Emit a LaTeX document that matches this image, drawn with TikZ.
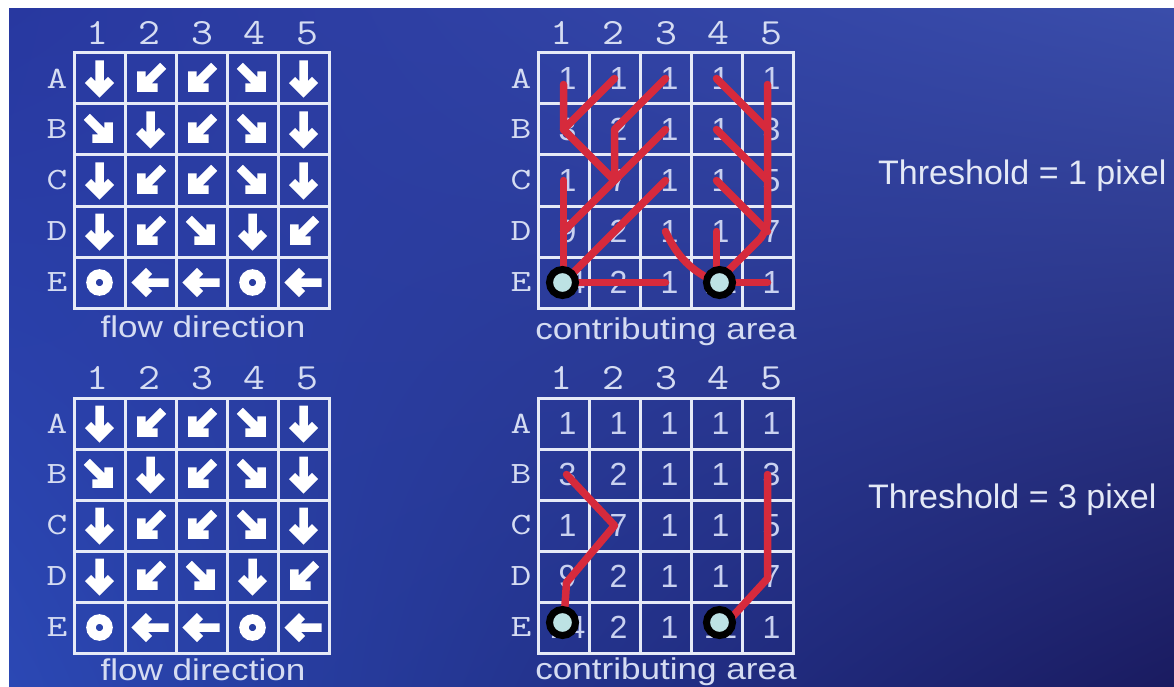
\documentclass[tikz,border=0pt]{standalone}
\usepackage{fontspec}
\usepackage{graphicx}
\usetikzlibrary{shadings}
\setmainfont{Liberation Sans}
\definecolor{bgUL}{HTML}{2838A0}
\definecolor{bgUR}{HTML}{3A4DAA}
\definecolor{bgLL}{HTML}{2B48B4}
\definecolor{bgLR}{HTML}{1A1B60}
\definecolor{labcol}{HTML}{D5DCF2}
\definecolor{numcol}{HTML}{C9D1F0}
\definecolor{gridcol}{HTML}{E6EAF7}
\definecolor{redcol}{HTML}{D62A3C}
\definecolor{pourcol}{HTML}{BDE2E4}
\definecolor{txtcol}{HTML}{E4E9F6}
\tikzset{
  gridln/.style={draw=gridcol, line width=3pt, line cap=rect},
  arrowln/.style={draw=white, line width=8.5pt, miter limit=4},
  collab/.style={text=labcol, font=\ttfamily\fontsize{37}{37}\selectfont, inner sep=0pt},
  rowlab/.style={text=labcol, font=\ttfamily\fontsize{31}{31}\selectfont, inner sep=0pt},
  numlab/.style={text=numcol, font=\fontsize{32}{32}\selectfont, inner sep=0pt, xshift=4pt},
  caption/.style={text=labcol, font=\fontsize{30}{30}\selectfont, inner sep=0pt, anchor=base},
  thresh/.style={text=txtcol, font=\fontsize{34}{34}\selectfont, inner sep=0pt, anchor=base west},
  redln/.style={draw=redcol, line width=7.5pt, line cap=round, line join=round},
  pour/.style={circle, draw=black, line width=7pt, fill=pourcol, minimum size=26pt, inner sep=0pt},
  flowarr/.pic={\draw[arrowln, rotate=#1] (0,-18) -- (0,13) (-11.5,1.5) -- (0,13) -- (11.5,1.5);},
  flowring/.pic={\draw[draw=white, line width=9.5pt] (0,0) circle[radius=8.5];}
}
\newcommand{\gridframe}[3]{%
  \begin{scope}[shift={(#1,#2)}]
    \foreach \i in {0,...,5}{
      \draw[gridln] (\i*51,0) -- (\i*51,255);
      \draw[gridln] (0,\i*51) -- (255,\i*51);
    }
    \foreach \i in {1,...,5}
      \node[collab] (#3-c\i) at (\i*51-25.5+\i*1.5-4,-20) {\scalebox{1.15}[1]{\i}};
    \foreach \l [count=\j] in {A,B,C,D,E}{
      \node[rowlab] (#3-r\l) at (-17,\j*51-25.5) {\scalebox{1.3}[1]{\l}};
      \foreach \i in {1,...,5}
        \coordinate (#3-\l\i) at (\i*51-25.5,\j*51-25.5);
    }
  \end{scope}}
\newcommand{\flowcells}[1]{%
  \foreach \c/\a in {A1/0,A2/-45,A3/-45,A4/45,A5/0,
                     B1/45,B2/0,B3/-45,B4/45,B5/0,
                     C1/0,C2/-45,C3/-45,C4/45,C5/0,
                     D1/0,D2/-45,D3/45,D4/0,D5/-45,
                     E2/-90,E3/-90,E5/-90}
    \pic at (#1-\c) {flowarr=\a};
  \pic at (#1-E1) {flowring};
  \pic at (#1-E4) {flowring};}
\newcommand{\numcells}[1]{%
  \foreach \c/\v in {A1/1,A2/1,A3/1,A4/1,A5/1,
                     B1/3,B2/2,B3/1,B4/1,B5/3,
                     C1/1,C2/7,C3/1,C4/1,C5/5,
                     D1/9,D2/2,D3/1,D4/1,D5/7,
                     E1/14,E2/2,E3/1,E4/11,E5/1}
    \node[numlab] (#1-n\c) at (#1-\c) {\v};}
\begin{document}
\begin{tikzpicture}[x=1pt,y=-1pt]
\useasboundingbox (0,0) rectangle (1174,687);
\fill[white] (0,0) rectangle (1174,687);
\shade[upper left=bgUL, upper right=bgUR, lower left=bgLL, lower right=bgLR]
  (9,9) rectangle (1174,687);
\begin{scope}
\clip (9,9) rectangle (1174,687);
% grids
\gridframe{74}{53}{tl}
\gridframe{538}{53}{tr}
\gridframe{74}{398}{bl}
\gridframe{538}{398}{br}
\flowcells{tl}
\flowcells{bl}
\numcells{tr}
\numcells{br}
% captions
\node[caption] (cap-tl) at (203,337) {\scalebox{1.17}[1]{flow direction}};
\node[caption] (cap-tr) at (666,339) {\scalebox{1.17}[1]{contributing area}};
\node[caption] (cap-bl) at (203,680) {\scalebox{1.17}[1]{flow direction}};
\node[caption] (cap-br) at (666,679) {\scalebox{1.17}[1]{contributing area}};
% threshold 1 network
\draw[redln] ([yshift=-6pt]tr-A1) -- (tr-B1) -- (tr-C2) -- (tr-D1);
\draw[redln] (tr-C1) -- (tr-E1);
\draw[redln] (tr-A2) -- (tr-B1);
\draw[redln] (tr-A3) -- (tr-B2) -- (tr-C2);
\draw[redln] (tr-B3) -- (tr-C2);
\draw[redln] (tr-C3) -- (tr-E1);
\draw[redln] (tr-E3) -- (tr-E1);
\draw[redln] (tr-A4) -- (tr-B5);
\draw[redln, rounded corners=12pt] ([yshift=-6pt]tr-A5) -- (tr-D5) -- (tr-E4);
\draw[redln] (tr-B4) -- (tr-C5);
\draw[redln] (tr-C4) -- (tr-D5);
\draw[redln] (tr-D3) to[bend right=20] (tr-E4);
\draw[redln] (tr-D4) -- (tr-E4);
\draw[redln] (tr-E5) -- (tr-E4);
\node[pour] (tr-p1) at ([xshift=-1pt]tr-E1) {};
\node[pour] (tr-p4) at ([xshift=3pt]tr-E4) {};
% threshold 3 network
\draw[redln] ([xshift=3pt]br-B1) -- (br-C2) -- ([xshift=3pt,yshift=-6pt]br-D1) -- (br-E1);
\draw[redln] (br-B5) -- ([yshift=-2pt]br-D5) -- ([xshift=6pt]br-E4);
\node[pour] (br-p1) at ([xshift=-1pt,yshift=5pt]br-E1) {};
\node[pour] (br-p4) at ([xshift=3pt,yshift=5pt]br-E4) {};
% threshold labels
\node[thresh] (th1) at (878,185) {Threshold = 1 pixel};
\node[thresh] (th3) at (868,508) {Threshold = 3 pixel};
\end{scope}
\end{tikzpicture}
\end{document}
